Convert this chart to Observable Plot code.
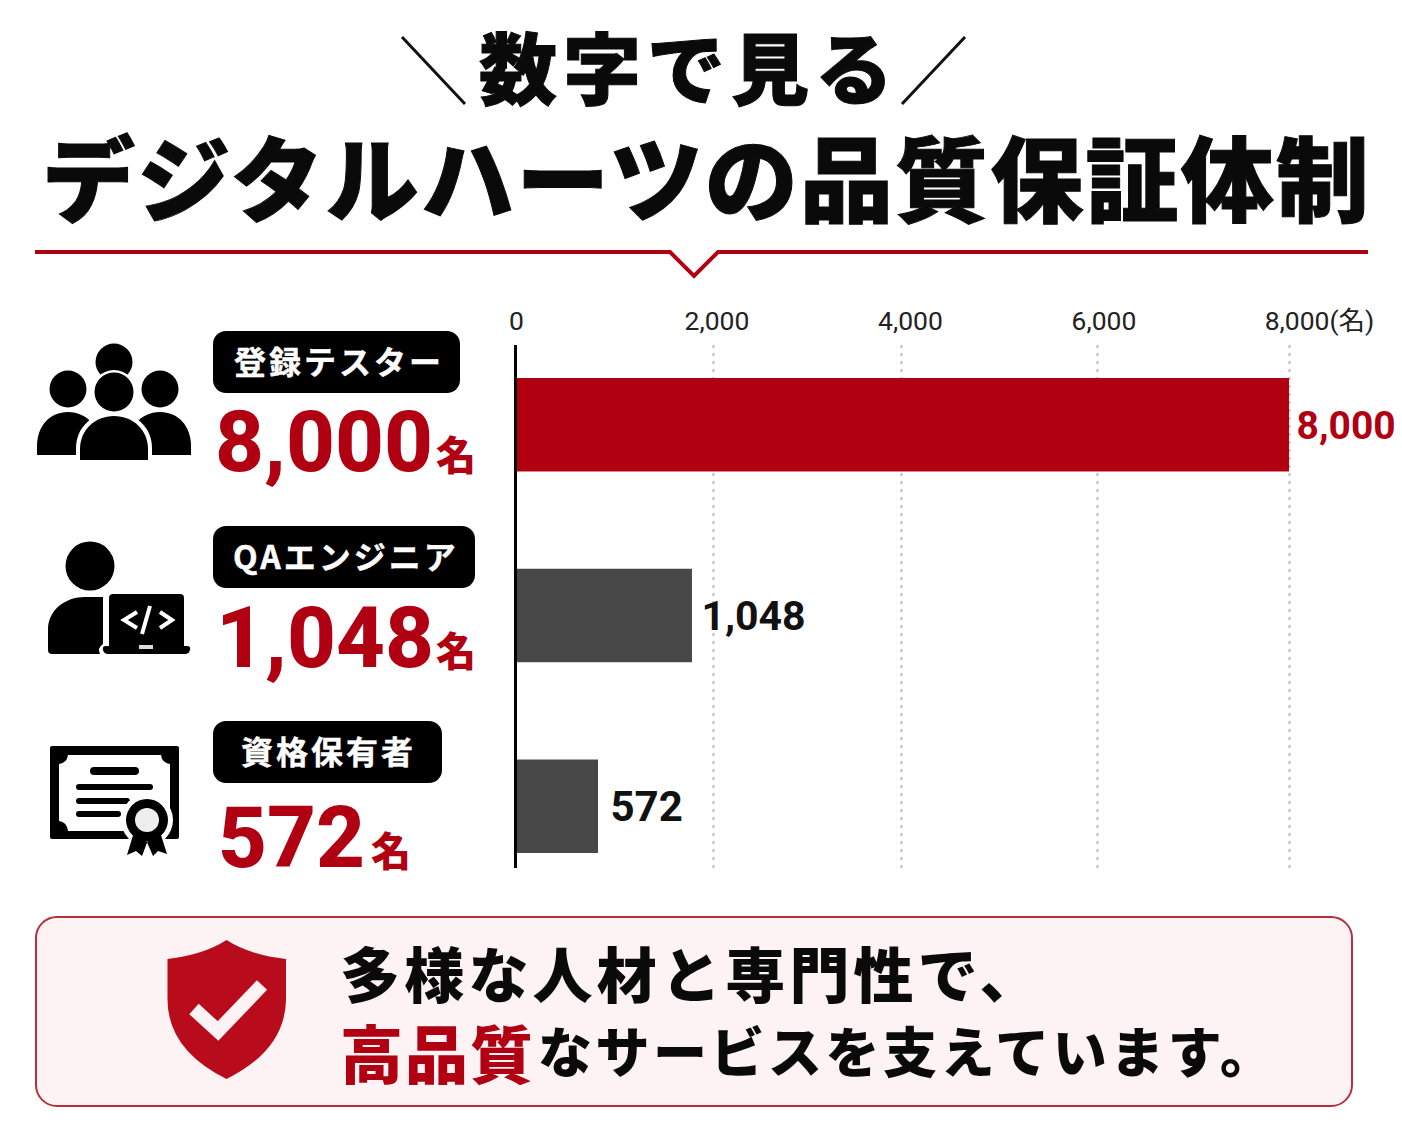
<!DOCTYPE html>
<html lang="ja">
<head>
<meta charset="utf-8">
<script src="https://cdn.jsdelivr.net/npm/d3@7"></script>
<script src="https://cdn.jsdelivr.net/npm/@observablehq/plot@0.6"></script>
<style>
  html,body{margin:0;padding:0;background:#fff;}
  #page{position:relative;width:1402px;height:1122px;overflow:hidden;background:#fff;
        font-family:"Noto Sans CJK JP","Noto Sans",sans-serif;color:#0a0a0a;}
  .t{position:absolute;white-space:nowrap;line-height:1;transform:translateY(-50%);}
  .pill{position:absolute;background:#000;border-radius:13px;height:62px;left:213px;}
  #deco{position:absolute;left:0;top:0;}
  #callout{position:absolute;left:35px;top:916px;width:1314px;height:187px;border:2px solid #b5303f;
           border-radius:22px;background:#fdf3f4;}
  #chart{position:absolute;left:500px;top:290px;width:902px;}
  #chart svg{max-width:none;}
</style>
</head>
<body>
<div id="page">
  <div id="callout"></div>
  <svg id="deco" width="1402" height="1122" viewBox="0 0 1402 1122">
    <!-- title slashes and divider -->
    <path d="M402 37L465 104M965 37L902 104" stroke="#111" stroke-width="3" fill="none"/>
    <path d="M35 252H670L694 276L718 252H1368" stroke="#b00012" stroke-width="4" fill="none"/>
    <!-- people icon -->
    <g fill="#000">
      <circle cx="114" cy="362" r="18.5"/>
      <circle cx="68" cy="389" r="18.5"/>
      <circle cx="160" cy="389" r="18.5"/>
      <path d="M37 455V446C37 426 50 412 68 412C78 412 86 416 92 423L84 455Z"/>
      <path d="M191 455V446C191 426 178 412 160 412C150 412 142 416 136 423L144 455Z"/>
      <circle cx="114" cy="392" r="22" fill="#fff"/>
      <circle cx="114" cy="392" r="19.5"/>
      <path d="M76 464V448C76 427 93 412 114 412C135 412 152 427 152 448V464Z" fill="#fff"/>
      <path d="M80 460V449C80 430 95 416 114 416C133 416 148 430 148 449V460Z"/>
    </g>
    <!-- engineer icon -->
    <g fill="#000">
      <circle cx="90" cy="566" r="24.5"/>
      <path d="M103 597V644Q97 648 100 654H52Q48 654 48 650V630C48 610 65 597 85 597Z"/>
      <path d="M113 594H180Q184 594 184 598V646H109V598Q109 594 113 594Z"/>
      <path d="M106 646H187Q191 646 190 650Q189 654 185 654H108Q104 654 103 650Q102 646 106 646Z"/>
      <path d="M137 612L124 620L137 628M160 612L172 620L160 628M150 606L142 634" stroke="#fff" stroke-width="4" fill="none"/>
      <rect x="139" y="645" width="14" height="4" fill="#ddd"/>
    </g>
    <!-- certificate icon -->
    <g>
      <rect x="50" y="746" width="129" height="93" rx="2" fill="#000"/>
      <path d="M68 755H161Q162 763 170 764V821Q162 822 161 831H68Q67 822 59 821V764Q67 763 68 755Z" fill="#fff"/>
      <path d="M94 771H135" stroke="#000" stroke-width="8" stroke-linecap="round"/>
      <path d="M79 787H150M79 801H127M79 814H118" stroke="#000" stroke-width="6" stroke-linecap="round"/>
      <circle cx="147" cy="820" r="26" fill="#fff"/>
      <path d="M134 832L127 855L136 851L142 856L148 840ZM160 832L167 854L158 851L153 856L146 840Z" fill="#000"/>
      <circle cx="147" cy="820" r="21" fill="#000"/>
      <circle cx="147" cy="820" r="12" fill="#eee"/>
    </g>
    <!-- shield icon -->
    <path d="M226.5 940Q250 955 286 959V1000Q285 1050 226.5 1079Q168 1050 167.5 1000V959Q203 955 226.5 940Z" fill="#b80c1c"/>
    <path d="M194 1009L218 1031L262 985" stroke="#fdf3f4" stroke-width="14" fill="none"/>
  </svg>
</div>
<script>
// Source values as printed on the picture
const categories = ["登録テスター", "QAエンジニア", "資格保有者"];
const printedValues = [8000, 1048, 572];
const unit = "名";
// Bar lengths: its bars are not drawn to the printed values
const barLengths = [8000, 1829, 858];
// Where each value label sits, read on the same axis
const labelPositions = [7980, 1829, 889];
const labelSizes = [39, 41, 42];
const barColors = ["#b00012", "#474747", "#474747"];
const valueColors = ["#b00012", "#111111", "#111111"];
const midTicks = [2000, 4000, 6000];
// Gridlines as they stand in the picture, slightly off the evenly spaced labels
const gridValues = [2046, 3990, 6015, 8000];

const headingSmall = "数字で見る";
const headingLarge = "デジタルハーツの品質保証体制";
const summaryLine1 = "多様な人材と専門性で、";
const summaryLine2Red = "高品質";
const summaryLine2 = "なサービスを支えています。";

const fmt = d3.format(",");
const rows = categories.map((category, i) => ({
  category, length: barLengths[i], labelAt: labelPositions[i], labelSize: labelSizes[i],
  label: fmt(printedValues[i]), barColor: barColors[i], valueColor: valueColors[i]
}));

const tickStyle = {anchor: "top", tickSize: 0, tickPadding: 16, fontSize: 26.5, fill: "#222", label: null};
const chart = Plot.plot({
  width: 902, height: 590,
  marginTop: 55, marginBottom: 12, marginLeft: 15, marginRight: 113,
  style: {background: "transparent", fontFamily: 'Roboto, "Noto Sans CJK JP", sans-serif'},
  x: {domain: [0, 8000], axis: null},
  y: {domain: categories, range: [88, 563], paddingInner: 0.51, paddingOuter: 0, align: 0, round: false, axis: null},
  color: {type: "identity"},
  marks: [
    Plot.ruleX(gridValues, {stroke: "#bcbcbc", strokeWidth: 2, strokeDasharray: "3,5"}),
    Plot.barX(rows, {x: "length", y: "category", fill: "barColor"}),
    Plot.ruleX([0], {stroke: "#000", strokeWidth: 3}),
    ...rows.map(row => Plot.text([row], {x: "labelAt", y: "category", text: "label", fill: row.valueColor,
                     textAnchor: "start", dx: 9, dy: 1, fontSize: row.labelSize, fontWeight: 700})),
    Plot.axisX({...tickStyle, ticks: [0], dx: 1, tickFormat: fmt}),
    Plot.axisX({...tickStyle, ticks: midTicks, dx: 8, tickFormat: fmt}),
    Plot.axisX({...tickStyle, ticks: [8000], dx: 30, tickFormat: d => `${fmt(d)}(${unit})`})
  ]
});
const holder = document.createElement("div");
holder.id = "chart";
holder.appendChild(chart);
const page = document.getElementById("page");
page.appendChild(holder);

function put(text, x, y, css) {
  const el = document.createElement("div");
  el.className = "t";
  el.textContent = text;
  el.style.cssText = `left:${x}px;top:${y}px;` + css;
  page.appendChild(el);
  return el;
}
function pill(y, w) {
  const el = document.createElement("div");
  el.className = "pill";
  el.style.top = y + "px";
  el.style.width = w + "px";
  page.appendChild(el);
}

// Heading
const heavy = "-webkit-text-stroke:1px currentColor;";
put(headingSmall, 479, 65, "font-size:78px;font-weight:900;letter-spacing:6px;" + heavy);
put(headingLarge, 42, 174, "font-size:93px;font-weight:900;letter-spacing:2.2px;" + heavy);

// Left-hand figures
const pillTops = [331, 526, 721];
const pillWidths = [247, 262, 229];
const pillTextX = [234, 233, 241];
const numberX = [215, 216, 218];
const numberY = [442, 638, 838];
const unitX = [436, 436, 371];
categories.forEach((c, i) => {
  pill(pillTops[i], pillWidths[i]);
  put(c, pillTextX[i], pillTops[i] + 29, "font-size:32px;font-weight:700;letter-spacing:3px;color:#fff;-webkit-text-stroke:0.4px #fff;");
  put(fmt(printedValues[i]), numberX[i], numberY[i], 'font-family:Roboto,sans-serif;font-size:85px;font-weight:800;color:#b00012;');
  put(unit, unitX[i], numberY[i] + 11, "font-size:40px;font-weight:900;color:#b00012;");
});

// Summary
put(summaryLine1, 340, 972, "font-size:60px;font-weight:900;letter-spacing:4.2px;");
put(summaryLine2Red, 340, 1050, "font-size:63px;font-weight:900;color:#b00012;letter-spacing:2px;");
put(summaryLine2, 538, 1050, "font-size:54px;font-weight:900;letter-spacing:3.5px;");
</script>
</body>
</html>
